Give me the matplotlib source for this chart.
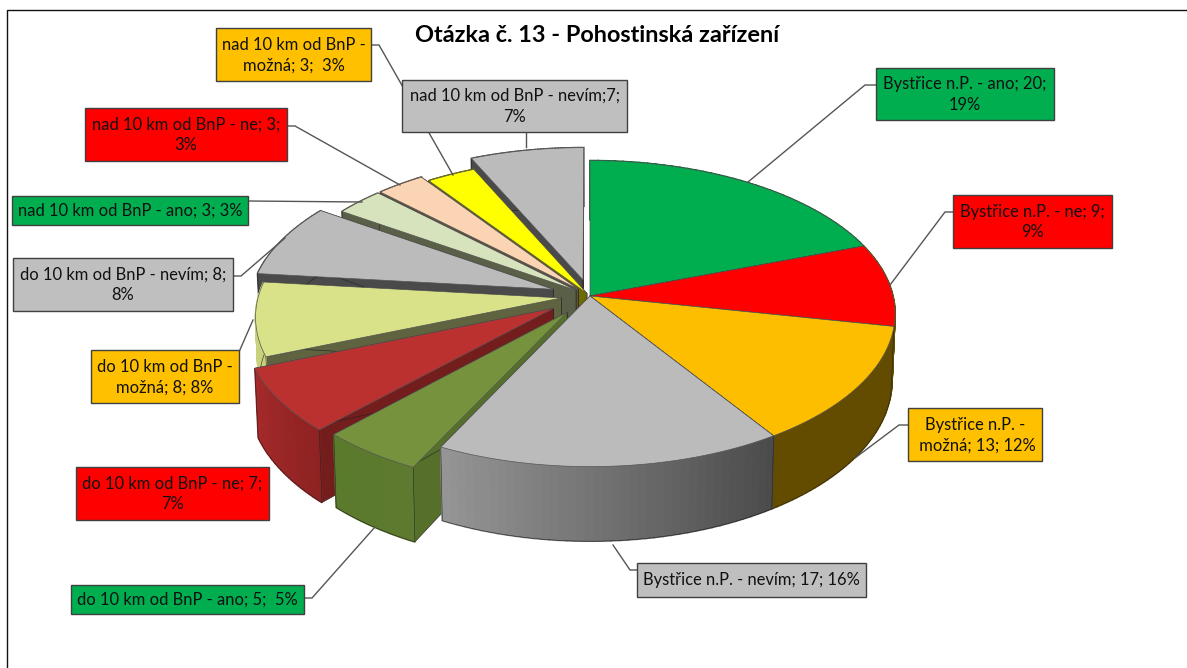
import numpy as np
import matplotlib
matplotlib.use('Agg')
import matplotlib.pyplot as plt
from matplotlib.patches import Polygon, Rectangle
from matplotlib.colors import to_rgb

plt.rcParams['font.family'] = ['Lato', 'DejaVu Sans']

# slice values, clockwise from 12 o'clock
categories = ['Bystřice n.P. - ano', 'Bystřice n.P. - ne', 'Bystřice n.P. - možná', 'Bystřice n.P. - nevím',
              'do 10 km od BnP - ano', 'do 10 km od BnP - ne', 'do 10 km od BnP - možná', 'do 10 km od BnP - nevím',
              'nad 10 km od BnP - ano', 'nad 10 km od BnP - ne', 'nad 10 km od BnP - možná', 'nad 10 km od BnP - nevím']
values = [20, 9, 13, 17, 5, 7, 8, 8, 3, 3, 3, 7]

label_texts = ['Bystřice n.P. - ano; 20;\n19%', 'Bystřice n.P. - ne; 9;\n9%', 'Bystřice n.P. -\n možná; 13; 12%',
               'Bystřice n.P. - nevím; 17; 16%', 'do 10 km od BnP - ano; 5;  5%', 'do 10 km od BnP - ne; 7;\n7%',
               'do 10 km od BnP -\nmožná; 8; 8%', 'do 10 km od BnP - nevím; 8;\n8%', 'nad 10 km od BnP - ano; 3; 3%',
               'nad 10 km od BnP - ne; 3;\n3%', 'nad 10 km od BnP -\nmožná; 3;  3%', 'nad 10 km od BnP - nevím;7;\n7%']

# styles
explode = [0, 0, 0, 0, 0.13, 0.145, 0.095, 0.13, 0.06, 0.06, 0.02, 0.11]
tops = ['#00AE4F', '#FF0000', '#FDBE00', '#BBBBBB', '#76923C', '#BA3130', '#D9E288', '#BBBBBB',
        '#D7E3BC', '#FBD4B4', '#FFFF00', '#BBBBBB']
cuts = ['#005A28', '#7A0000', '#634C00', '#4A4A4A', '#566F2A', '#731D1D', '#5F6340', '#4A4A4A',
        '#5A5F48', '#5F5040', '#6B6B00', '#4A4A4A']
wall_l = ['#005A28', '#634C00', '#634C00', '#969696', '#5A7A2C', '#A52A2A', '#C8D27C', '#4A4A4A',
          '#5A5F48', '#5F5040', '#6B6B00', '#4A4A4A']
wall_r = ['#005A28', '#634C00', '#634C00', '#4A4A4A', '#5E7A30', '#8E2222', '#C8D27C', '#4A4A4A',
          '#5A5F48', '#5F5040', '#6B6B00', '#4A4A4A']
boxes = [(876, 68, 1054, 120), (953, 195, 1112, 248), (908, 408, 1042, 461), (637, 563, 866, 597),
         (71, 585, 304, 614), (76, 467, 269, 520), (91, 350, 239, 403), (13, 258, 233, 311),
         (12, 196, 248, 225), (85, 108, 287, 161), (216, 28, 371, 81), (402, 80, 627, 132)]
box_colors = ['#00AE4F', '#FF0000', '#FFC000', '#BFBFBF', '#00AE4F', '#FF0000', '#FFC000', '#BFBFBF',
              '#00AE4F', '#FF0000', '#FFC000', '#BFBFBF']
leaders = [[(876, 85), (865, 85), (748, 182)], [(953, 212), (945, 212), (890, 285)],
           [(908, 425), (899, 425), (855, 458)], [(637, 570), (630, 570), (613, 545)],
           [(304, 598), (312, 598), (375, 527)], [],
           [(239, 352), (253, 320)], [(233, 276), (241, 276), (285, 238)],
           [(248, 201), (362, 202)], [(287, 126), (295, 126), (400, 185)],
           [(371, 45), (379, 45), (453, 175)], [(526, 132), (526, 147)]]
draw_order = [11, 10, 9, 8, 7, 6, 5, 4, 0, 1, 2, 3]

cx, cy, rx, ry, k, depth = 590, 296, 303, 151, 0.115, 66


def project(t, ev, ed, r=1.0, low=False):
    v = r * np.sin(t) + ev
    d = -r * np.cos(t) + ed
    s = 1 / (1 - k * d)
    x = cx + rx * v * s
    y = cy + ry * d * s
    if low:
        x = cx + (x - cx) * 0.99
        y = y + depth * s
    return x, y


fig = plt.figure(figsize=(11.87, 6.68), dpi=100)
ax = fig.add_axes([0, 0, 1, 1])
ax.set_xlim(0, 1187)
ax.set_ylim(668, 0)
ax.axis('off')

# frame of the pasted chart
ax.plot([7, 7, 1187], [668, 10, 10], color='#111111', lw=1)

edges = np.cumsum([0] + values) / sum(values) * 2 * np.pi

for z, i in enumerate(draw_order):
    t0, t1 = edges[i], edges[i + 1]
    mid = (t0 + t1) / 2
    ev, ed = explode[i] * np.sin(mid), -explode[i] * np.cos(mid)
    base = 10 + z * 2
    apex = project(0, ev, ed, r=0)
    apex_low = project(0, ev, ed, r=0, low=True)

    # cut walls
    for t in (t0, t1):
        p = project(t, ev, ed)
        q = project(t, ev, ed, low=True)
        ax.add_patch(Polygon([apex, p, q, apex_low], closed=True, fc=cuts[i], ec='#222222', lw=0.4, zorder=base))

    # outer wall, split up so it can shade from left to right
    ts = np.linspace(t0, t1, 41)
    a, b = np.array(to_rgb(wall_l[i])), np.array(to_rgb(wall_r[i]))
    for j in range(40):
        xs = [ts[j], ts[j + 1]]
        p0, p1 = project(xs[0], ev, ed), project(xs[1], ev, ed)
        q0, q1 = project(xs[0], ev, ed, low=True), project(xs[1], ev, ed, low=True)
        col = b + (a - b) * (j + 0.5) / 40
        ax.add_patch(Polygon([p0, p1, q1, q0], closed=True, fc=col, ec=col, lw=1.2, zorder=base))
    lowx, lowy = project(ts, ev, ed, low=True)
    ax.plot(lowx, lowy, color='#222222', lw=0.4, zorder=base)
    for t in (t0, t1):
        px, py = project(t, ev, ed)
        qx, qy = project(t, ev, ed, low=True)
        ax.plot([px, qx], [py, qy], color='#222222', lw=0.4, zorder=base)

    # top face
    x, y = project(ts, ev, ed)
    pts = [apex] + list(zip(x, y))
    ax.add_patch(Polygon(pts, closed=True, fc=tops[i], ec='#555555', lw=0.5, zorder=base + 1))

for pts in leaders:
    if pts:
        ax.plot([p[0] for p in pts], [p[1] for p in pts], color='#555555', lw=1, zorder=40,
                solid_joinstyle='miter')

for (x0, y0, x1, y1), col, txt in zip(boxes, box_colors, label_texts):
    ax.add_patch(Rectangle((x0, y0), x1 - x0, y1 - y0, fc=col, ec='#404040', lw=1, zorder=50))
    ax.text((x0 + x1) / 2, (y0 + y1) / 2 + 0.5, txt, ha='center', va='center', fontsize=11.9, color='#111111',
            linespacing=1.38, zorder=51)

ax.text(597, 35, 'Otázka č. 13 - Pohostinská zařízení', ha='center', va='center', fontsize=16.9,
        fontweight='bold', color='black', zorder=60)

fig.savefig('out.png', dpi=100)
